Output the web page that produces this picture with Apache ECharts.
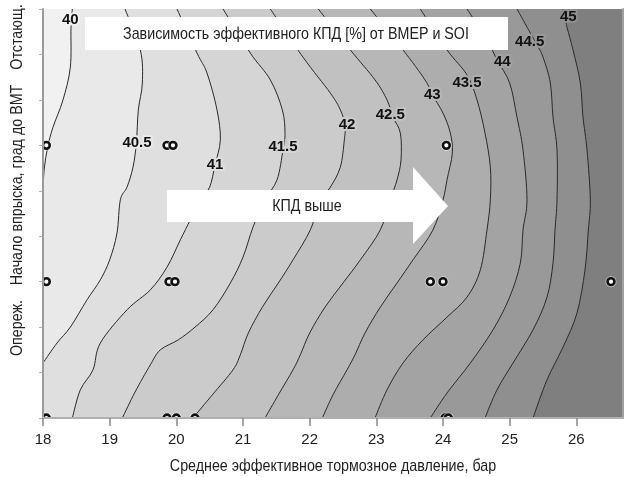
<!DOCTYPE html>
<html><head><meta charset="utf-8">
<script src="https://cdn.jsdelivr.net/npm/echarts@6/dist/echarts.min.js"></script>
<style>html,body{margin:0;padding:0;background:#fff}#c{width:627px;height:477px}</style>
</head><body><div id="c"></div>
<script>
// Contour levels (effective efficiency, %)
const levels = [40, 40.5, 41, 41.5, 42, 42.5, 43, 43.5, 44, 44.5, 45];

// Contour lines: [BMEP, SOI-axis units]
const c40   = [[18.44,9],[18.42,8.6],[18.41,7.72],[18.3,7.0],[18.15,6.4],[18.07,5.96],[18.02,5.5],[18.0,5.05]];
const c40_5 = [[19.23,9],[19.46,8.1],[19.49,7.37],[19.43,6.78],[19.4,6.05],[19.35,5.52],[19.26,5.08],[19.16,4.8],[19.11,4.07],[19.0,3.48],[18.86,3.04],[18.66,2.6],[18.41,2.0],[18.21,1.65],[18.0,1.21]];
const c41   = [[20.01,9],[20.31,8.03],[20.46,7.59],[20.61,6.78],[20.66,6.12],[20.58,5.57],[20.5,5.08],[20.36,4.8],[20.21,4.36],[20.06,3.92],[19.86,3.32],[19.61,2.82],[19.26,2.38],[18.86,1.65],[18.75,1.06],[18.56,0.62],[18.44,0]];
const c41_5 = [[20.7,9],[21.11,8.03],[21.41,7.44],[21.59,6.78],[21.63,6.27],[21.6,5.9],[21.51,5.24],[21.33,4.8],[21.15,4.2],[21.0,3.54],[20.81,2.97],[20.55,2.38],[20.28,2.0],[20.03,1.72],[19.76,1.5],[19.61,1.17],[19.38,0.57],[19.19,0]];
const c42   = [[21.41,9],[21.9,7.94],[22.31,7.15],[22.46,6.78],[22.53,6.45],[22.52,6.12],[22.46,5.52],[22.31,5.08],[22.16,4.8],[22.01,4.14],[21.75,3.48],[21.53,2.97],[21.29,2.44],[21.08,1.87],[20.96,1.39],[20.85,1.06],[20.54,0.51],[20.25,0]];
const c42_5 = [[22.13,9],[22.61,8.1],[22.98,7.44],[23.16,7.0],[23.25,6.62],[23.36,6.27],[23.37,5.68],[23.31,5.24],[23.21,4.8],[23.06,4.14],[22.76,3.48],[22.5,2.97],[22.23,2.44],[22.0,1.87],[21.86,1.39],[21.75,1.06],[21.53,0.51],[21.33,0]];
const c43   = [[22.91,9],[23.4,8.1],[23.73,7.44],[23.84,7.11],[24.0,6.71],[24.11,6.27],[24.14,5.83],[24.06,5.24],[24.0,4.8],[23.85,4.14],[23.55,3.48],[23.31,2.97],[23.06,2.44],[22.83,1.87],[22.68,1.39],[22.56,1.06],[22.35,0.51],[22.19,0]];
const c43_5 = [[23.66,9],[24.06,8.1],[24.36,7.55],[24.51,7.0],[24.63,6.27],[24.71,5.52],[24.71,4.8],[24.66,4.14],[24.56,3.26],[24.36,2.66],[24.06,2.22],[23.7,1.72],[23.4,1.21],[23.16,0.62],[22.98,0]];
const c44   = [[24.36,9],[24.66,8.32],[24.81,7.88],[25.0,7.37],[25.11,6.62],[25.2,5.9],[25.26,4.8],[25.2,4.14],[25.16,3.41],[25.0,2.66],[24.75,1.94],[24.41,1.21],[24.06,0.55],[23.81,0]];
const c44_5 = [[25.11,9],[25.31,8.47],[25.41,8.21],[25.5,7.94],[25.61,7.37],[25.65,6.62],[25.71,5.9],[25.71,4.8],[25.68,4.14],[25.65,3.41],[25.56,2.66],[25.35,1.94],[25.05,1.21],[24.81,0.62],[24.63,0]];
const c45   = [[25.8,9],[25.86,8.6],[25.95,8.1],[26.06,7.37],[26.1,6.62],[26.16,5.9],[26.21,4.8],[26.18,4.14],[26.13,3.26],[26.01,2.31],[25.8,1.56],[25.56,0.84],[25.35,0]];
const contours = [c40, c40_5, c41, c41_5, c42, c42_5, c43, c43_5, c44, c44_5, c45];

// Contour label positions
const labelX = [18.41, 19.41, 20.58, 21.6, 22.56, 23.21, 23.84, 24.36, 24.89, 25.3, 25.88];
const labelY = [8.76, 6.05, 5.57, 5.96, 6.45, 6.67, 7.11, 7.37, 7.83, 8.27, 8.82];

// Measured operating points
const ptX = [18.05, 19.86, 19.95, 24.05, 18.05, 19.89, 19.98, 23.81, 24.0, 26.52, 18.05, 19.86, 20.0, 20.28, 24.03, 24.08];
const ptY = [6, 6, 6, 6, 3, 3, 3, 3, 3, 3, 0, 0, 0, 0, 0, 0];

// Band fills: below 40, then above each level
const bandColors = ['#f1f1f1','#e9e9e9','#dfdfdf','#d5d5d5','#cbcbcb','#c1c1c1','#b7b7b7','#adadad','#a3a3a3','#999999','#8f8f8f','#7f7f7f'];

const X_MIN = 18, X_MAX = 26.7, Y_MIN = 0, Y_MAX = 9;
const FONT = "'Liberation Sans', Arial, sans-serif";
const NARROW = 0.84;

function smoothPath(p) {
  let d = 'M' + p[0][0] + ',' + p[0][1];
  for (let i = 0; i < p.length - 1; i++) {
    const p0 = p[i - 1] || p[i], p1 = p[i], p2 = p[i + 1], p3 = p[i + 2] || p[i + 1];
    const c1x = p1[0] + (p2[0] - p0[0]) / 6, c1y = p1[1] + (p2[1] - p0[1]) / 6;
    const c2x = p2[0] - (p3[0] - p1[0]) / 6, c2y = p2[1] - (p3[1] - p1[1]) / 6;
    d += 'C' + c1x + ',' + c1y + ',' + c2x + ',' + c2y + ',' + p2[0] + ',' + p2[1];
  }
  return d;
}

function narrowText(x, y, text, rot) {
  return {type: 'text', z: 101, x: x, y: y, rotation: rot || 0, scaleX: NARROW,
    style: {text: text, font: '17px ' + FONT, fill: '#222', align: 'center', verticalAlign: 'middle'}};
}

const idxData = levels.map((l, i) => [X_MIN, Y_MIN, i]);

const chart = echarts.init(document.getElementById('c'), null, {renderer: 'canvas'});
chart.setOption({
  animation: false,
  grid: {left: 43, right: 4, top: 9, bottom: 59, show: true, backgroundColor: bandColors[0], borderWidth: 0},
  xAxis: [{
    type: 'value', min: X_MIN, max: X_MAX, interval: 1, z: 10,
    axisLine: {show: true, lineStyle: {color: '#9a9a9a', width: 2}},
    axisTick: {show: true, length: 8, lineStyle: {color: '#888', width: 1.5}},
    axisLabel: {fontFamily: FONT, fontSize: 15, color: '#222', margin: 14, showMaxLabel: false},
    splitLine: {show: false}
  }, {
    type: 'value', position: 'top', min: X_MIN, max: X_MAX, z: 10,
    axisLine: {show: true, lineStyle: {color: '#b0b0b0', width: 2}},
    axisTick: {show: false}, axisLabel: {show: false}, splitLine: {show: false}
  }],
  yAxis: [{
    type: 'value', min: Y_MIN, max: Y_MAX, interval: 1, z: 10,
    axisLine: {show: true, lineStyle: {color: '#9a9a9a', width: 2}},
    axisTick: {show: true, length: 4, lineStyle: {color: '#aaa'}},
    axisLabel: {show: false}, splitLine: {show: false}
  }, {
    type: 'value', position: 'right', min: Y_MIN, max: Y_MAX, z: 10,
    axisLine: {show: true, lineStyle: {color: '#a0a0a0', width: 2}},
    axisTick: {show: false}, axisLabel: {show: false}, splitLine: {show: false}
  }],
  series: [{
    type: 'custom', silent: true, z: 1, clip: true, data: idxData,
    renderItem: function (params, api) {
      const i = api.value(2);
      const line = contours[i];
      const px = line.map(p => api.coord(p));
      const last = line[line.length - 1], first = line[0];
      const corners = [[last[0], Y_MIN], [X_MAX, Y_MIN], [X_MAX, Y_MAX], [first[0], Y_MAX]].map(p => api.coord(p));
      let d = smoothPath(px);
      corners.forEach(c => { d += 'L' + c[0] + ',' + c[1]; });
      d += 'Z';
      return {type: 'path', shape: {pathData: d}, style: {fill: bandColors[i + 1], stroke: null}};
    }
  }, {
    type: 'custom', silent: true, z: 2, clip: true, data: idxData,
    renderItem: function (params, api) {
      const i = api.value(2);
      const px = contours[i].map(p => api.coord(p));
      return {type: 'path', shape: {pathData: smoothPath(px)}, style: {fill: null, stroke: '#2a2a2a', lineWidth: 1}};
    }
  }, {
    type: 'custom', silent: true, z: 3, data: idxData,
    renderItem: function (params, api) {
      const i = api.value(2);
      const c = api.coord([labelX[i], labelY[i]]);
      return {type: 'text', x: c[0], y: c[1], style: {
        text: String(levels[i]), font: "bold 15px 'Liberation Sans', Arial, sans-serif",
        fill: '#111', align: 'center', verticalAlign: 'middle',
        stroke: bandColors[i], lineWidth: 4
      }};
    }
  }, {
    type: 'custom', silent: true, z: 4, clip: true,
    data: ptX.map((x, k) => [x, ptY[k]]),
    renderItem: function (params, api) {
      const c = api.coord([api.value(0), api.value(1)]);
      return {type: 'group', children: [
        {type: 'circle', shape: {cx: c[0], cy: c[1], r: 5.6}, style: {fill: 'rgba(255,255,255,0.45)'}},
        {type: 'circle', shape: {cx: c[0], cy: c[1], r: 3.4}, style: {fill: '#fff', stroke: '#111', lineWidth: 2.6}}
      ]};
    }
  }],
  graphic: [
    {type: 'rect', z: 100, shape: {x: 85, y: 17, width: 423, height: 33}, style: {fill: '#fff'}},
    narrowText(296, 34, 'Зависимость эффективного КПД [%] от BMEP и SOI'),
    {type: 'polygon', z: 100, shape: {points: [[167,190],[413,190],[413,167],[448,206],[413,244],[413,222],[167,222]]}, style: {fill: '#fff'}},
    narrowText(307, 206, 'КПД выше'),
    narrowText(333, 466, 'Среднее эффективное тормозное давление, бар'),
    narrowText(17, 37, 'Отстающ.', Math.PI / 2),
    narrowText(17, 185, 'Начало впрыска, град до ВМТ', Math.PI / 2),
    narrowText(17, 328, 'Опереж.', Math.PI / 2)
  ]
});
</script>
</body></html>
